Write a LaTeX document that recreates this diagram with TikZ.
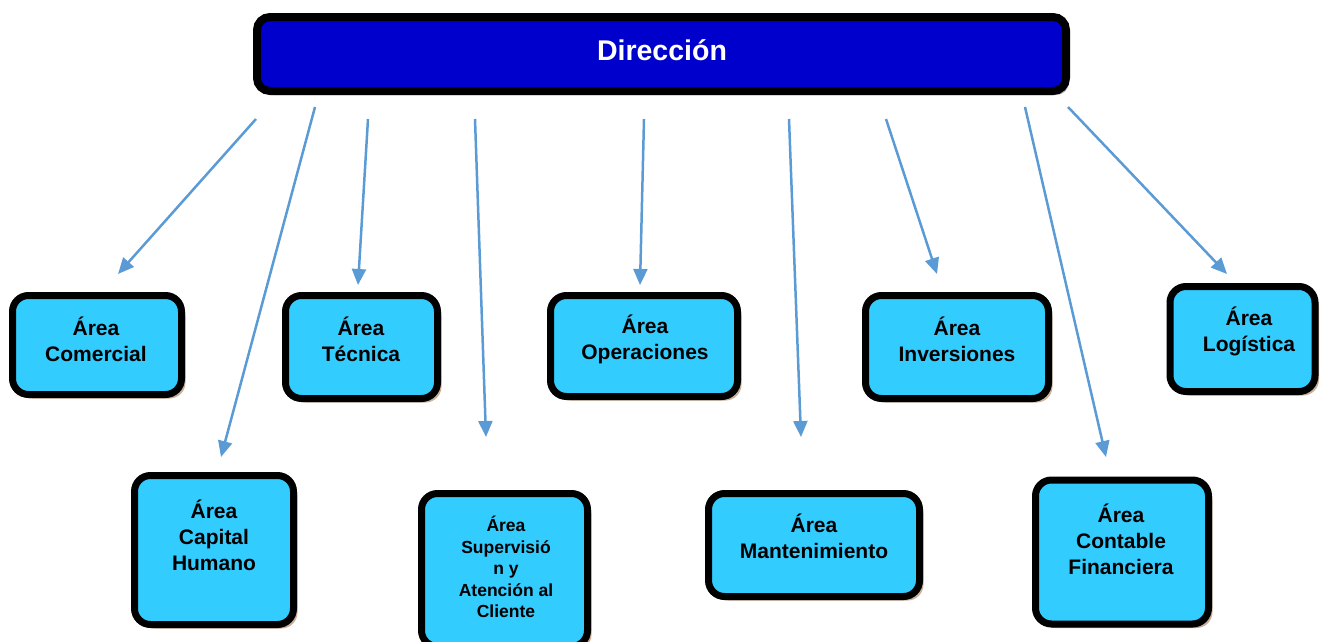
\documentclass[tikz,border=0pt]{standalone}
\usepackage{fontspec}
\setmainfont{Liberation Sans}
\usetikzlibrary{arrows.meta,shadows}
\definecolor{dirblue}{HTML}{0000CC}
\definecolor{boxcyan}{HTML}{33CCFF}
\definecolor{arrblue}{HTML}{5B9BD5}
\definecolor{shadtan}{HTML}{C4A68E}
\begin{document}
\begin{tikzpicture}[x=1pt,y=-1pt,
  areabox/.style={draw=black,line width=7pt,rounded corners=16pt,fill=boxcyan,
    drop shadow={shadow xshift=4pt,shadow yshift=-4pt,fill=shadtan,opacity=0.9}},
  dirbox/.style={draw=black,line width=8pt,rounded corners=13pt,fill=dirblue,
    drop shadow={shadow xshift=3pt,shadow yshift=-4pt,fill=black!35,opacity=1}},
  lbl/.style={align=center,font=\fontsize{21}{26}\bfseries\selectfont,text=black},
  lblsmall/.style={align=center,font=\fontsize{17.5}{21.5}\bfseries\selectfont,text=black},
  conn/.style={draw=arrblue,line width=2.5pt,-{Triangle[length=16pt,width=14pt]}}]
\clip (0,0) rectangle (1323,641);
\useasboundingbox (0,0) rectangle (1323,641);
% boxes
\node[dirbox,minimum width=809pt,minimum height=74pt] (dir) at (661.5,54) {};
\node[areabox,minimum width=169pt,minimum height=99pt] (com) at (97,345) {};
\node[areabox,minimum width=152pt,minimum height=103pt] (tec) at (361.5,347) {};
\node[areabox,minimum width=187pt,minimum height=101pt] (ope) at (644,346) {};
\node[areabox,minimum width=183pt,minimum height=103pt] (inv) at (957,347) {};
\node[areabox,minimum width=145pt,minimum height=105pt] (log) at (1242.5,339) {};
\node[areabox,minimum width=159pt,minimum height=149pt] (cap) at (214,550) {};
\node[areabox,minimum width=166pt,minimum height=153pt] (sup) at (504.5,570) {};
\node[areabox,minimum width=211pt,minimum height=103pt] (man) at (814,545) {};
\node[areabox,minimum width=173pt,minimum height=144pt] (con) at (1122,552) {};
% labels
\node[text=white,font=\fontsize{28.5}{32}\bfseries\selectfont] (tdir) at (662,50) {Dirección};
\node[lbl] (tcom) at (96,339) {Área\\Comercial};
\node[lbl] (ttec) at (361,339) {Área\\Técnica};
\node[lbl] (tope) at (645,339) {Área\\Operaciones};
\node[lbl] (tinv) at (957,339) {Área\\Inversiones};
\node[lbl] (tlog) at (1249,331) {Área\\Logística};
\node[lbl] (tcap) at (214,535) {Área\\Capital\\Humano};
\node[lblsmall] (tsup) at (506,567) {Área\\Supervisió\\n y\\Atención al\\Cliente};
\node[lbl] (tman) at (814,536) {Área\\Mantenimiento};
\node[lbl] (tcon) at (1121,539) {Área\\Contable\\Financiera};
% connector endpoints
\coordinate (s1) at (256,119); \coordinate (e1) at (118,274);
\coordinate (s2) at (315,107); \coordinate (e2) at (221,457);
\coordinate (s3) at (368,119); \coordinate (e3) at (358,285);
\coordinate (s4) at (475,119); \coordinate (e4) at (486,437);
\coordinate (s5) at (644,119); \coordinate (e5) at (640,285);
\coordinate (s6) at (789,119); \coordinate (e6) at (801,437);
\coordinate (s7) at (886,119); \coordinate (e7) at (937,274);
\coordinate (s8) at (1025,107); \coordinate (e8) at (1106,457);
\coordinate (s9) at (1068,107); \coordinate (e9) at (1227,274);
\foreach \i in {1,...,9} {\draw[conn] (s\i) -- (e\i);}
\end{tikzpicture}
\end{document}
